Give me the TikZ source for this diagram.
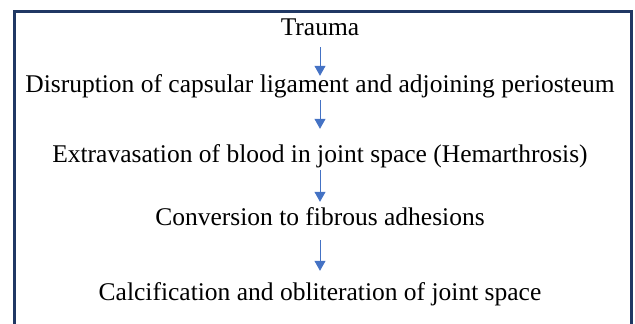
\documentclass[tikz,border=0pt]{standalone}
\usepackage{fontspec}
\setmainfont{Liberation Serif}
\usepackage{tikz}
\usetikzlibrary{shapes, arrows.meta, positioning}
\definecolor{framenavy}{HTML}{203864}
\definecolor{arrowblue}{HTML}{4472C4}
\tikzstyle{stepnode} = [inner sep = 0pt, text height = 16pt, text depth = 5pt, font = \fontsize{25.5}{28}\selectfont, anchor = base]
\tikzstyle{flow} = [draw, arrowblue, line width = 1pt, -{Triangle[length=10pt, width=11pt]}]

\begin{document}
\begin{tikzpicture}[x=1pt, y=-1pt]
			\useasboundingbox (0,0) rectangle (635,324);
			\draw [framenavy, line width = 2.5pt] (14.5,330) -- (14.5,11.5) -- (631.5,11.5) -- (631.5,330);

			\node [stepnode] (trauma) at (320, 35) {Trauma};
			\node [stepnode] (disrupt) at (320, 92) {Disruption of capsular ligament and adjoining periosteum};
			\node [stepnode] (extrav) at (320, 162) {Extravasation of blood in joint space (Hemarthrosis)};
			\node [stepnode] (convert) at (320, 225) {Conversion to fibrous adhesions};
			\node [stepnode] (calcif) at (320, 300) {Calcification and obliteration of joint space};

			\path [flow, shorten >= 0pt, shorten <= 7pt] (trauma) -- (disrupt);
			\path [flow, shorten >= 17pt, shorten <= 3pt] (disrupt) -- (extrav);
			\path [flow, shorten >= 7pt, shorten <= 3pt] (extrav) -- (convert);
			\path [flow, shorten >= 13pt, shorten <= 10pt] (convert) -- (calcif);
		\end{tikzpicture}
\end{document}
